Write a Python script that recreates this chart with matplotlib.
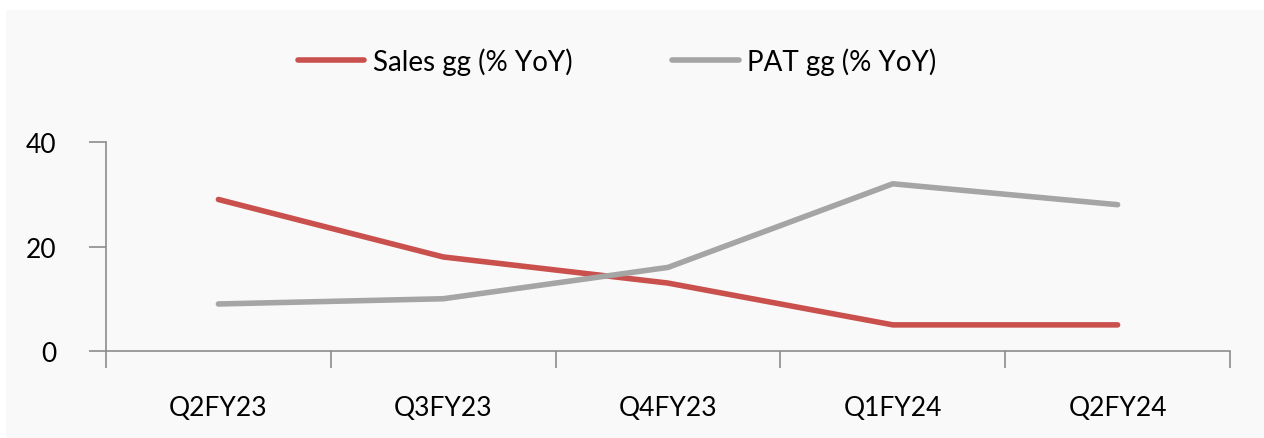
import matplotlib.pyplot as plt
from matplotlib.patches import Rectangle

quarters = ["Q2FY23", "Q3FY23", "Q4FY23", "Q1FY24", "Q2FY24"]
sales_gg = [29, 18, 13, 5, 5]
pat_gg = [9, 10, 16, 32, 28]

plt.rcParams['font.family'] = ['Lato', 'DejaVu Sans']

W, H = 1264, 439
fig = plt.figure(figsize=(W / 100, H / 100), dpi=100)
fig.patch.set_facecolor('white')
# light grey panel, white strip on top and left
fig.add_artist(Rectangle((6 / W, 0), 1 - 6 / W, 1 - 11 / H,
                         transform=fig.transFigure, facecolor='#f9f9f9',
                         edgecolor='none', zorder=-5))

ax = fig.add_axes([106 / W, 1 - 352 / H, (1230 - 106) / W, (352 - 143) / H])
ax.set_zorder(2)
ax.set_facecolor('none')

x = list(range(len(quarters)))
ax.plot(x, sales_gg, color='#c9504c', lw=4, solid_capstyle='round',
        label='Sales gg (% YoY)')
ax.plot(x, pat_gg, color='#a5a5a5', lw=4, solid_capstyle='round',
        label='PAT gg (% YoY)')

ax.set_xlim(-0.5, len(quarters) - 0.5)
ax.set_ylim(0, 40)
ax.set_yticks([0, 20, 40])

# category labels centred, ticks at boundaries
ax.set_xticks([i - 0.5 for i in range(len(quarters) + 1)])
ax.set_xticklabels([])
ax.set_xticks(x, minor=True)
ax.set_xticklabels(quarters, minor=True)
ax.tick_params(axis='x', which='major', length=12, width=1.2, color='#8c8c8c', direction='out')
ax.tick_params(axis='x', which='minor', length=0, pad=32, labelsize=19)
ax.tick_params(axis='y', length=12, width=1.2, color='#8c8c8c', labelsize=19, pad=24)

for s in ['top', 'right']:
    ax.spines[s].set_visible(False)
for s in ['left', 'bottom']:
    ax.spines[s].set_color('#8c8c8c')
    ax.spines[s].set_linewidth(1.2)

ax.legend(loc='center', bbox_to_anchor=((617 - 106) / (1230 - 106), (352 - 62) / (352 - 143)),
          ncol=2, frameon=False, fontsize=20, handlelength=2.4, handletextpad=0.3,
          columnspacing=3.6)

fig.savefig('out.png', dpi=100)
